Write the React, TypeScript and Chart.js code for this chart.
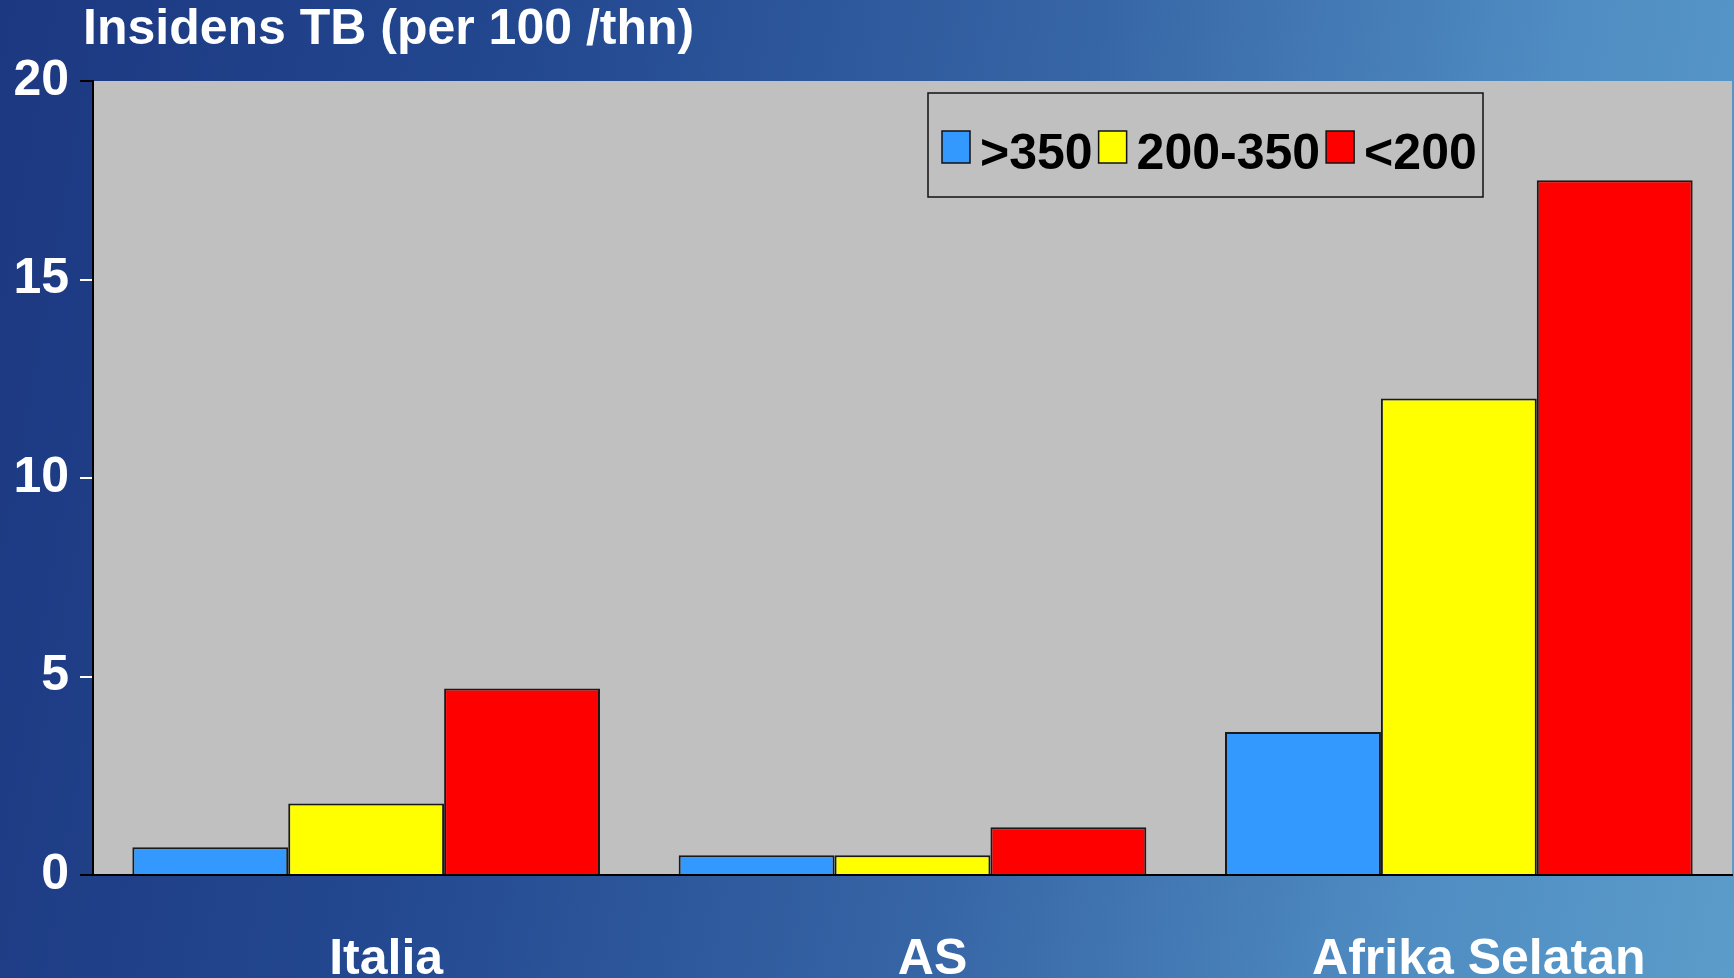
import React, { useEffect, useRef } from "react";
import { Chart, registerables } from "chart.js";

Chart.register(...registerables);

const FONT = "'Liberation Sans', Arial, sans-serif";

const titleText = "Insidens TB (per 100 /thn)";
const categories = ["Italia", "AS", "Afrika Selatan"];
const seriesLabels = [">350", "200-350", "<200"];
const above350 = [0.7, 0.5, 3.6];
const between200and350 = [1.8, 0.5, 12.0];
const below200 = [4.7, 1.2, 17.5];
const seriesColors = ["#3399FF", "#FFFF00", "#FF0000"];
const yMin = 0;
const yMax = 20;
const yStep = 5;

const plotBackground = {
  id: "plotBackground",
  afterLayout(chart: any) {
    if (chart.titleBlock) {
      chart.titleBlock.left = 83;
    }
  },
  beforeDraw(chart: any) {
    const { ctx, chartArea } = chart;
    ctx.save();
    ctx.fillStyle = "#C0C0C0";
    ctx.fillRect(chartArea.left, chartArea.top, chartArea.right - chartArea.left, chartArea.bottom - chartArea.top);
    ctx.restore();
  },
};

const boxLegend = {
  id: "boxLegend",
  afterDraw(chart: any) {
    const { ctx, chartArea } = chart;
    const bx = chartArea.left + 835;
    const by = chartArea.top + 12;
    const bw = 555;
    const bh = 104;
    ctx.save();
    ctx.strokeStyle = "#111";
    ctx.lineWidth = 1.5;
    ctx.strokeRect(bx, by, bw, bh);
    ctx.font = `bold 50px ${FONT}`;
    ctx.textBaseline = "alphabetic";
    ctx.textAlign = "left";
    let x = bx + 14;
    chart.data.datasets.forEach((ds: any) => {
      ctx.fillStyle = ds.backgroundColor;
      ctx.fillRect(x, by + 38, 28, 32);
      ctx.strokeStyle = "#111";
      ctx.lineWidth = 1.5;
      ctx.strokeRect(x, by + 38, 28, 32);
      x += 28 + 10;
      ctx.fillStyle = "#000";
      ctx.fillText(ds.label, x, by + 76);
      x += ctx.measureText(ds.label).width + 6;
    });
    ctx.restore();
  },
};

export default function App() {
  const canvasRef = useRef<HTMLCanvasElement | null>(null);

  useEffect(() => {
    if (!canvasRef.current) return;
    const values = [above350, between200and350, below200];
    const chart = new Chart(canvasRef.current, {
      type: "bar",
      data: {
        labels: categories,
        datasets: seriesLabels.map((label, i) => ({
          label,
          data: values[i],
          backgroundColor: seriesColors[i],
          borderColor: "#1a1a1a",
          borderWidth: 2,
          categoryPercentage: 0.856,
          barPercentage: 1.0,
        })),
      },
      options: {
        animation: false,
        responsive: true,
        maintainAspectRatio: false,
        layout: { padding: { left: 0, right: 2, top: 0, bottom: 0 } },
        plugins: {
          legend: { display: false },
          tooltip: { enabled: false },
          title: {
            display: true,
            text: titleText,
            align: "start",
            color: "#FFFFFF",
            font: { family: FONT, size: 50, weight: "bold", lineHeight: 1 },
            padding: { top: 5, bottom: 26 },
          },
        },
        scales: {
          x: {
            grid: { display: false, drawTicks: false },
            border: { display: true, color: "#000", width: 2 },
            ticks: {
              color: "#FFFFFF",
              font: { family: FONT, size: 50, weight: "bold" },
              padding: 55,
              maxRotation: 0,
              autoSkip: false,
              labelOffset: 20,
            },
            afterFit(scale: any) {
              scale.height = 103;
            },
          },
          y: {
            min: yMin,
            max: yMax,
            grid: {
              display: true,
              drawOnChartArea: false,
              drawTicks: true,
              tickLength: 13,
              lineWidth: 2,
              color: (c: any) => (c.tick && (c.tick.value === yMin || c.tick.value === yMax) ? "#000" : "#FFFFFF"),
            },
            border: { display: true, color: "#000", width: 2 },
            ticks: {
              stepSize: yStep,
              color: "#FFFFFF",
              font: { family: FONT, size: 50, weight: "bold" },
              padding: 11,
            },
            afterFit(scale: any) {
              scale.width = 93;
            },
          },
        },
      },
      plugins: [plotBackground, boxLegend],
    });
    return () => chart.destroy();
  }, []);

  return (
    <div
      style={{
        position: "fixed",
        left: 0,
        top: 0,
        width: 1734,
        height: 978,
        background: "linear-gradient(100deg, #1c3881 0%, #234890 28%, #3766a6 58%, #4f8cc2 82%, #5b9cca 100%)",
      }}
    >
      <canvas ref={canvasRef} style={{ display: "block" }} />
    </div>
  );
}
